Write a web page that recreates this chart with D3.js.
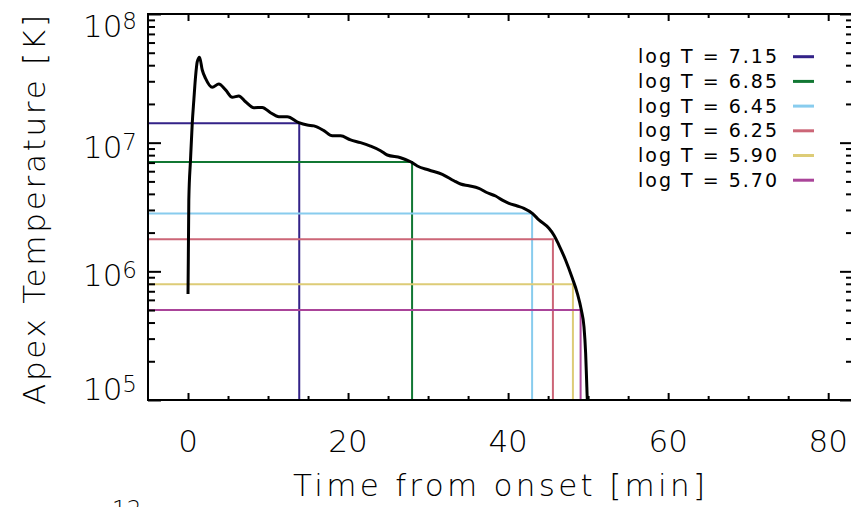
<!DOCTYPE html>
<html lang="en">
<head>
<meta charset="UTF-8">
<title>Apex temperature</title>
<style>
    body { margin: 0; background: #fff; }
    svg { display: block; }
    text { font-family: "DejaVu Sans", "Lato", sans-serif; font-weight: 200; fill: #000; }
    .leg { font-weight: 400; }
</style>
</head>
<body>
<div id="chart"></div>
<script src="https://cdn.jsdelivr.net/npm/d3@7/dist/d3.min.js"></script>
<script>
"use strict";

// time [min] and apex temperature [K] of the loop
var timeMin = [0.0, 0.1, 0.31, 0.53, 0.73, 0.94, 1.15, 1.44, 1.78, 2.19, 3.03, 3.85, 4.69, 5.53,
    6.35, 7.19, 8.23, 9.28, 10.31, 11.35, 12.4, 13.85, 14.9, 15.73, 16.98, 18.03, 19.06, 20.31,
    21.56, 22.8, 24.06, 24.9, 26.56, 27.81, 28.65, 30.1, 31.78, 33.23, 34.06, 35.1, 36.35, 37.4,
    38.44, 39.28, 40.1, 41.15, 41.98, 43.03, 43.85, 45.1, 45.73, 46.35, 47.19, 48.03, 48.65,
    49.15, 49.48, 49.69, 49.81, 49.9, 49.95];
var apexT = [6.67e5, 3.58e6, 7.3e6, 1.42e7, 2.15e7, 3.24e7, 4.24e7, 4.61e7, 3.67e7, 3.16e7, 2.69e7,
    2.86e7, 2.57e7, 2.25e7, 2.31e7, 2.08e7, 1.87e7, 1.88e7, 1.71e7, 1.59e7, 1.59e7, 1.43e7, 1.37e7,
    1.35e7, 1.24e7, 1.13e7, 1.13e7, 1.05e7, 1.0e7, 9.4e6, 8.66e6, 8.02e6, 7.64e6, 7.11e6, 6.59e6,
    6.13e6, 5.68e6, 5.06e6, 4.77e6, 4.63e6, 4.42e6, 4.08e6, 3.85e6, 3.58e6, 3.38e6, 3.22e6, 3.09e6,
    2.82e6, 2.51e6, 2.16e6, 1.91e6, 1.60e6, 1.22e6, 8.83e5, 6.75e5, 5.0e5, 3.72e5, 2.31e5, 1.43e5,
    1.0e5, 9.0e4];

// threshold levels and the time each one is reached
var levelLabels = ["7.15", "6.85", "6.45", "6.25", "5.90", "5.70"];
var levelLogT = [7.15, 6.85, 6.45, 6.25, 5.90, 5.70];
var levelTime = [13.9, 28.0, 43.0, 45.6, 48.1, 49.06];
var levelColors = ["#332288", "#117733", "#88CCEE", "#CC6677", "#DDCC77", "#AA4499"];

var xMajor = [0, 20, 40, 60, 80];
var xMinor = [5, 10, 15, 25, 30, 35, 45, 50, 55, 65, 70, 75];
var yMajor = [1e5, 1e6, 1e7, 1e8];

var W = 851, H = 507;
var plot = {left: 148, right: 853, top: 14, bottom: 400};

var svg = d3.select("#chart").append("svg")
    .attr("width", W)
    .attr("height", H);

var x = d3.scaleLinear().domain([-5, 83.1]).range([plot.left, plot.right]);
var y = d3.scaleLog().domain([1e5, 1e8]).range([plot.bottom, plot.top]);

var yMinor = y.ticks().filter(function (v) { return yMajor.indexOf(v) < 0; });

svg.append("clipPath").attr("id", "clip")
    .append("rect")
    .attr("x", plot.left).attr("y", plot.top)
    .attr("width", plot.right - plot.left).attr("height", plot.bottom - plot.top);

// threshold lines: across to the crossing time, then down to the axis
var lv = svg.append("g").attr("clip-path", "url(#clip)");
levelLogT.forEach(function (l, i) {
    var T = Math.pow(10, l);
    lv.append("path")
        .attr("d", "M" + x(-5) + "," + y(T) + "H" + x(levelTime[i]) + "V" + y(1e5))
        .attr("fill", "none")
        .attr("stroke", levelColors[i])
        .attr("stroke-width", 2);
});

// the temperature curve
var line = d3.line()
    .x(function (d, i) { return x(timeMin[i]); })
    .y(function (d) { return y(d); })
    .curve(d3.curveMonotoneX);

svg.append("path")
    .datum(apexT)
    .attr("clip-path", "url(#clip)")
    .attr("d", line)
    .attr("fill", "none")
    .attr("stroke", "#000")
    .attr("stroke-width", 3)
    .attr("stroke-linejoin", "round");

// axes box and ticks
function ticks(axis, sel, size) {
    sel.call(axis.tickSize(size).tickFormat(""));
    sel.select(".domain").remove();
    sel.selectAll(".tick line").attr("stroke", "#000").attr("stroke-width", 2);
}
ticks(d3.axisBottom(x).tickValues(xMajor), svg.append("g").attr("transform", "translate(0," + plot.bottom + ")"), -7);
ticks(d3.axisBottom(x).tickValues(xMinor), svg.append("g").attr("transform", "translate(0," + plot.bottom + ")"), -4);
ticks(d3.axisTop(x).tickValues(xMajor), svg.append("g").attr("transform", "translate(0," + plot.top + ")"), -7);
ticks(d3.axisTop(x).tickValues(xMinor), svg.append("g").attr("transform", "translate(0," + plot.top + ")"), -4);
ticks(d3.axisLeft(y).tickValues(yMajor), svg.append("g").attr("transform", "translate(" + plot.left + ",0)"), -13);
ticks(d3.axisLeft(y).tickValues(yMinor), svg.append("g").attr("transform", "translate(" + plot.left + ",0)"), -7);
ticks(d3.axisRight(y).tickValues(yMajor), svg.append("g").attr("transform", "translate(" + plot.right + ",0)"), -13);
ticks(d3.axisRight(y).tickValues(yMinor), svg.append("g").attr("transform", "translate(" + plot.right + ",0)"), -7);

svg.append("rect")
    .attr("x", plot.left).attr("y", plot.top)
    .attr("width", plot.right - plot.left).attr("height", plot.bottom - plot.top)
    .attr("fill", "none")
    .attr("stroke", "#000")
    .attr("stroke-width", 2);

// tick labels
svg.selectAll(".xlab").data(xMajor).enter().append("text")
    .attr("x", function (d) { return x(d); })
    .attr("y", 452)
    .attr("text-anchor", "middle")
    .attr("font-size", 31)
    .text(function (d) { return d; });

yMajor.forEach(function (v) {
    var base = Math.min(Math.max(y(v) + 15, 37), 400);
    var t = svg.append("text")
        .attr("x", 137)
        .attr("y", base)
        .attr("text-anchor", "end")
        .attr("font-size", 31);
    t.append("tspan").text("10");
    t.append("tspan").attr("dy", -8).attr("font-size", 23).text(Math.round(Math.log10(v)));
});

// partial label of the panel below
svg.append("text")
    .attr("x", 112).attr("y", 517)
    .attr("font-size", 23)
    .text("12");

// axis titles
svg.append("text")
    .attr("x", 499).attr("y", 496)
    .attr("text-anchor", "middle")
    .attr("font-size", 31)
    .attr("textLength", 412)
    .attr("lengthAdjust", "spacing")
    .text("Time from onset [min]");

svg.append("text")
    .attr("transform", "translate(45,210) rotate(-90)")
    .attr("text-anchor", "middle")
    .attr("font-size", 31)
    .attr("textLength", 390)
    .attr("lengthAdjust", "spacing")
    .text("Apex Temperature [K]");

// legend
var leg = svg.append("g");
levelLabels.forEach(function (lab, i) {
    var ly = 56.7 + i * 24.7;
    leg.append("text")
        .attr("class", "leg")
        .attr("x", 638).attr("y", ly + 6.5)
        .attr("font-size", 19)
        .attr("textLength", 139)
        .attr("lengthAdjust", "spacing")
        .text("log T = " + lab);
    leg.append("line")
        .attr("x1", 793).attr("x2", 814)
        .attr("y1", ly).attr("y2", ly)
        .attr("stroke", levelColors[i])
        .attr("stroke-width", 3);
});
</script>
</body>
</html>
